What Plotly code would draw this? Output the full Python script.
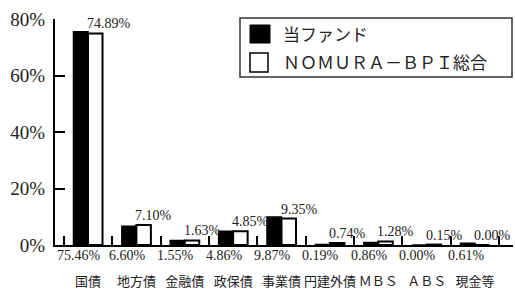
import plotly.graph_objects as go

categories = ["国債", "地方債", "金融債", "政保債", "事業債", "円建外債", "ＭＢＳ", "ＡＢＳ", "現金等"]
fund = [75.46, 6.60, 1.55, 4.86, 9.87, 0.19, 0.86, 0.00, 0.61]
bench = [74.89, 7.10, 1.63, 4.85, 9.35, 0.74, 1.28, 0.15, 0.00]
series_names = ["当ファンド", "ＮＯＭＵＲＡ－ＢＰＩ総合"]
y_ticks = [0, 20, 40, 60, 80]
y_tick_labels = ["0%", "20%", "40%", "60%", "80%"]

W, H = 515, 293
L, R, T, B = 55, 2, 19, 48
PW, PH = W - L - R, H - T - B


def px(xp):
    return (xp - L) / PW


def py(yp):
    return (H - B - yp) / PH


NUM_FONT = "Liberation Serif"
CJK_FONT = "Noto Sans CJK JP"

fig = go.Figure()
fig.add_trace(go.Bar(x=categories, y=fund, name=series_names[0],
                     marker=dict(color="black", line=dict(color="black", width=1.5)),
                     showlegend=False))
fig.add_trace(go.Bar(x=categories, y=bench, name=series_names[1],
                     marker=dict(color="white", line=dict(color="black", width=2)),
                     showlegend=False))

annotations = []
for c, v in zip(categories, fund):
    annotations.append(dict(x=c, y=0, xref="x", yref="y", text=f"{v:.2f}%",
                            showarrow=False, xanchor="center", yanchor="top",
                            xshift=-9, yshift=-1,
                            font=dict(family=NUM_FONT, size=14, color="#222")))
for c, v in zip(categories, bench):
    annotations.append(dict(x=c, y=v, xref="x", yref="y", text=f"{v:.2f}%",
                            showarrow=False, xanchor="left", yanchor="bottom",
                            xshift=-3, yshift=0,
                            font=dict(family=NUM_FONT, size=14, color="#222")))

# legend (drawn manually)
shapes = [
    dict(type="rect", xref="paper", yref="paper", x0=px(240), x1=px(512), y0=py(77), y1=py(18),
         line=dict(color="#333", width=1.5), fillcolor="white", layer="above"),
    dict(type="rect", xref="paper", yref="paper", x0=px(250), x1=px(270), y0=py(43), y1=py(25),
         line=dict(color="black", width=1), fillcolor="black", layer="above"),
    dict(type="rect", xref="paper", yref="paper", x0=px(250), x1=px(268), y0=py(72), y1=py(53),
         line=dict(color="black", width=1.5), fillcolor="white", layer="above"),
]
annotations.append(dict(x=px(281), y=py(33), xref="paper", yref="paper", text=series_names[0],
                        showarrow=False, xanchor="left", yanchor="middle",
                        font=dict(family=CJK_FONT, size=17, color="#222")))
annotations.append(dict(x=px(281), y=py(62), xref="paper", yref="paper", text=series_names[1],
                        showarrow=False, xanchor="left", yanchor="middle",
                        font=dict(family=CJK_FONT, size=17, color="#222")))

fig.update_layout(
    width=W, height=H,
    margin=dict(l=L, r=R, t=T, b=B, pad=0, autoexpand=False),
    paper_bgcolor="white", plot_bgcolor="white",
    barmode="group", bargap=0.4, bargroupgap=0,
    showlegend=False,
    annotations=annotations,
    shapes=shapes,
    xaxis=dict(showline=True, linecolor="black", linewidth=2, showgrid=False,
               ticks="inside", tickson="boundaries", ticklen=9, tickwidth=2, tickcolor="black",
               tickangle=0, automargin=False,
               tickfont=dict(family=CJK_FONT, size=13, color="#222"),
               ticklabelstandoff=23, fixedrange=True),
    yaxis=dict(range=[0, 80], tickvals=y_ticks, ticktext=y_tick_labels,
               showline=True, linecolor="black", linewidth=2, showgrid=False, zeroline=False,
               ticks="inside", ticklen=10, tickwidth=2, tickcolor="black", automargin=False,
               tickfont=dict(family=NUM_FONT, size=19, color="#222"),
               ticklabelstandoff=4, fixedrange=True),
)

fig.write_html("out.html", config={"displayModeBar": False},
               post_script="document.body.style.margin='0';document.body.style.padding='0';"
                           "document.documentElement.style.overflow='hidden';")
